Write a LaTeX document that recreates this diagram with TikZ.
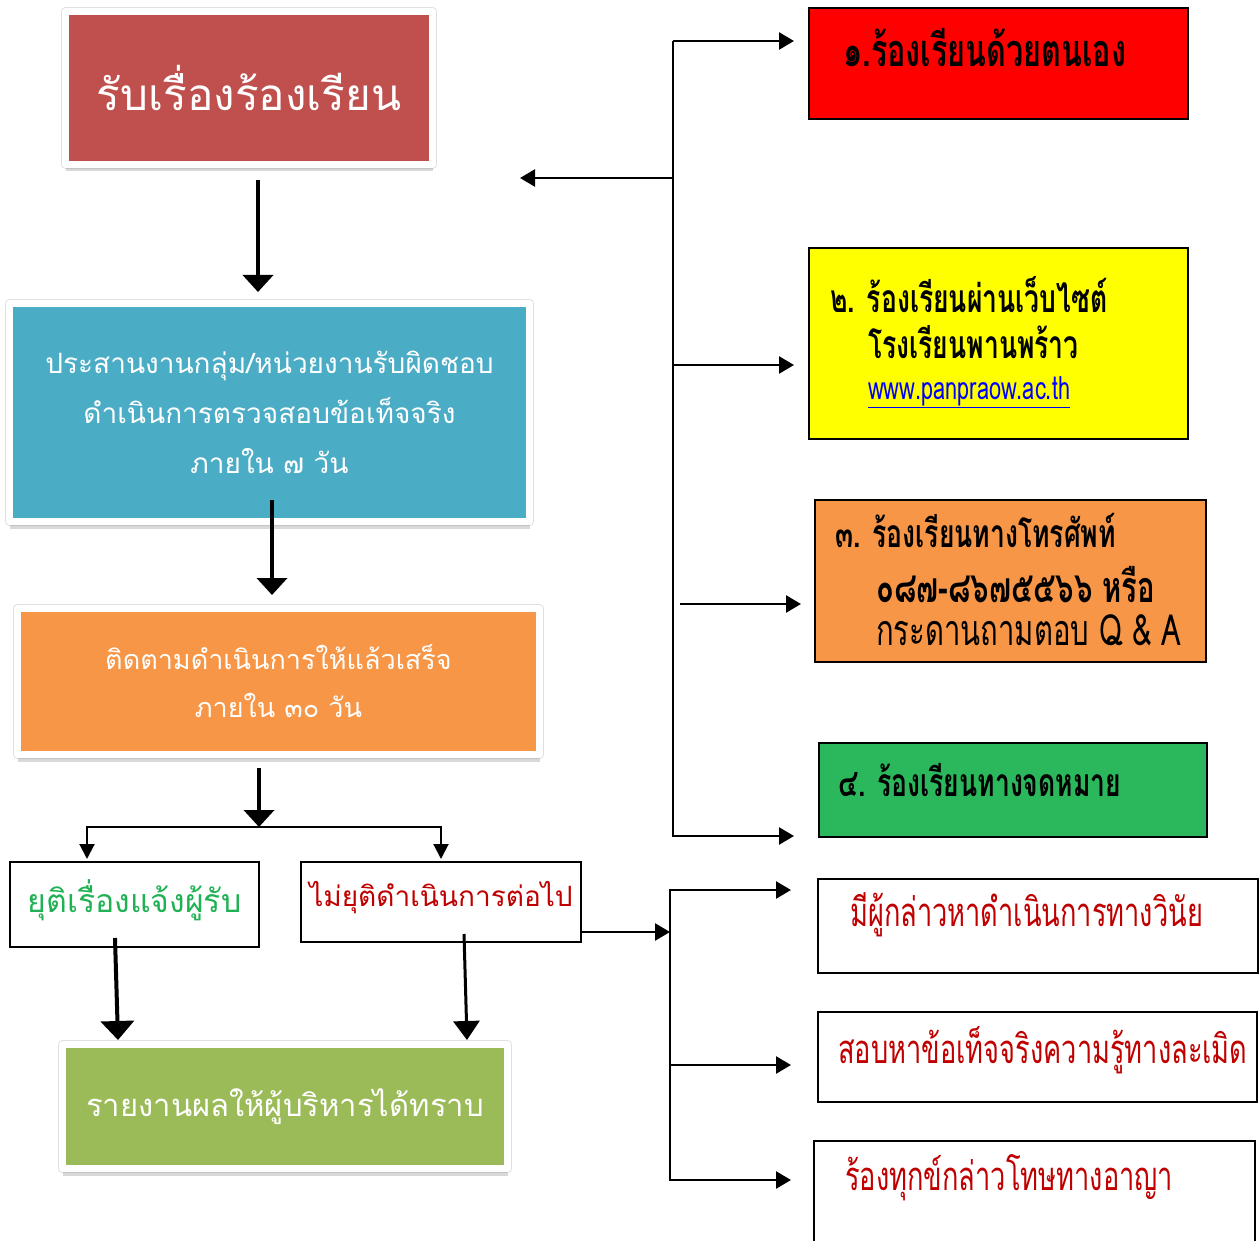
\documentclass[tikz,border=0pt]{standalone}
\usepackage{fontspec}
\usepackage{tikz}
\usetikzlibrary{arrows.meta,calc,shadows,positioning}
\newfontfamily\thaifont[Script=Thai]{Loma}
\newfontfamily\thainarrow[Script=Thai,FakeStretch=0.68]{Loma}
\definecolor{titlered}{HTML}{C0504D}
\definecolor{stepblue}{HTML}{4BACC6}
\definecolor{steporange}{HTML}{F79646}
\definecolor{stepolive}{HTML}{9BBB59}
\definecolor{chanred}{HTML}{FF0000}
\definecolor{chanyellow}{HTML}{FFFF00}
\definecolor{changreen}{HTML}{2BB85C}
\definecolor{okgreen}{HTML}{1FB153}
\definecolor{notred}{HTML}{C00000}
\definecolor{urlblue}{HTML}{0000FF}

\tikzset{
  stepframe/.style={draw=white,line width=7pt,line join=round,inner sep=0pt,
    text=white,align=center,font=\thaifont,
    preaction={draw=black!12,line width=9pt},
    drop shadow={shadow xshift=0.5pt,shadow yshift=-7pt,opacity=0.3}},
  chanbox/.style={draw=black,line width=2pt,inner sep=0pt},
  chantext/.style={anchor=west,inner sep=0pt,font=\fontsize{39}{44}\thainarrow\bfseries},
  casetext/.style={anchor=west,inner sep=0pt,text=notred,font=\fontsize{40}{44}\thainarrow},
  bigflow/.style={line width=4pt,-{Triangle[width=30pt,length=17pt]}},
  flow/.style={line width=2.5pt,-{Triangle[width=17pt,length=15pt]}},
}

\begin{document}
\begin{tikzpicture}[x=1pt,y=-1pt]
  \useasboundingbox (0,0) rectangle (1259,1241);

  % left column
  \node[stepframe,fill=titlered,minimum width=367,minimum height=153,
    font=\fontsize{44}{50}\thaifont](title) at (249,88) {รับเรื่องร้องเรียน};
  \node[stepframe,fill=stepblue,minimum width=520,minimum height=218,
    font=\fontsize{28}{50}\thaifont](check) at (269.5,412.5)
    {ประสานงานกลุ่ม/หน่วยงานรับผิดชอบ\\ดำเนินการตรวจสอบข้อเท็จจริง\\ภายใน ๗ วัน};
  \node[stepframe,fill=steporange,minimum width=522,minimum height=146,
    font=\fontsize{27}{48}\thaifont](follow) at (278.5,681.5)
    {ติดตามดำเนินการให้แล้วเสร็จ\\ภายใน ๓๐ วัน};
  \node[chanbox,minimum width=249,minimum height=85,text=okgreen,text depth=16pt,
    font=\fontsize{32}{34}\thaifont](done) at (134.5,904.5) {ยุติเรื่องแจ้งผู้รับ};
  \node[chanbox,minimum width=280,minimum height=80,text=notred,text depth=16pt,
    font=\fontsize{28}{30}\thaifont](notdone) at (441,902) {ไม่ยุติดำเนินการต่อไป};
  \node[stepframe,fill=stepolive,minimum width=445,minimum height=124,
    font=\fontsize{31}{36}\thaifont](report) at (285,1106.5) {รายงานผลให้ผู้บริหารได้ทราบ};

  % complaint channels
  \node[chanbox,fill=chanred,minimum width=379,minimum height=111](ch1) at (998.5,63.5) {};
  \node[chanbox,fill=chanyellow,minimum width=379,minimum height=191](ch2) at (998.5,343.5) {};
  \node[chanbox,fill=steporange,minimum width=391,minimum height=162](ch3) at (1010.5,581) {};
  \node[chanbox,fill=changreen,minimum width=388,minimum height=94](ch4) at (1013,790) {};
  \node[chantext,font=\fontsize{45}{50}\thainarrow\bfseries](ch1a) at (843,48) {๑.ร้องเรียนด้วยตนเอง};
  \node[chantext](ch2a) at (830,295) {๒. ร้องเรียนผ่านเว็บไซต์};
  \node[chantext](ch2b) at (868,342) {โรงเรียนพานพร้าว};
  \node[chantext,font=\fontsize{32}{36}\thainarrow,text=urlblue](ch2c) at (868,392)
    {\underline{www.panpraow.ac.th}};
  \node[chantext](ch3a) at (835,530) {๓. ร้องเรียนทางโทรศัพท์};
  \node[chantext,font=\fontsize{43}{48}\thainarrow\bfseries](ch3b) at (876,585) {๐๘๗-๘๖๗๕๕๖๖ หรือ};
  \node[chantext,font=\fontsize{43}{48}\thainarrow](ch3c) at (876,630) {กระดานถามตอบ Q \& A};
  \node[chantext](ch4a) at (838,780) {๔. ร้องเรียนทางจดหมาย};

  % further action
  \node[chanbox,minimum width=440,minimum height=94](act1) at (1038,926) {};
  \node[chanbox,minimum width=439,minimum height=90](act2) at (1037.5,1057) {};
  \node[chanbox,minimum width=441,minimum height=109](act3) at (1034.5,1195.5) {};
  \node[casetext](act1a) at (850,915) {มีผู้กล่าวหาดำเนินการทางวินัย};
  \node[casetext](act2a) at (838,1050) {สอบหาข้อเท็จจริงความรู้ทางละเมิด};
  \node[casetext](act3a) at (845,1178) {ร้องทุกข์กล่าวโทษทางอาญา};

  \coordinate (fork) at (259,827);
  \coordinate (hub1) at (673,178);
  \coordinate (hub2) at (670,932);
  \coordinate (phone) at (680,604);

  \begin{scope}
    \draw[bigflow] ($(title.south)+(9,12)$) -- ($(title.south |- check.north)+(9,-8)$);
    \draw[bigflow] ($(check.south)+(2.5,-25)$) -- ($(check.south |- follow.north)+(2.5,-10)$);
    \draw[bigflow] ($(follow.south)+(-19.5,10)$) -- (fork);
    \draw[flow,line width=2pt,-{Triangle[width=15pt,length=15pt]}]
      (fork) -| ($(done.north)+(-47.5,-2)$);
    \draw[flow,line width=2pt,-{Triangle[width=15pt,length=15pt]}]
      (fork) -| ($(notdone.north)+(0,-2)$);
    \draw[bigflow,-{Triangle[width=33pt,length=19pt]}]
      ($(done.south)+(-19.5,-10)$) -- ($(report.north)+(-167,-1)$);
    \draw[bigflow,line width=3pt,-{Triangle[width=26pt,length=19pt]}]
      ($(notdone.south)+(23,-9)$) -- ($(report.north)+(182,-1)$);

    \draw[flow] (hub1) -- ($(title.east)+(84,90)$);
    \draw[flow] ($(hub1)+(0,-137)$) -- ($(ch1.west)+(-14,-22.5)$);
    \draw[flow] (hub1) |- ($(ch2.west)+(-14,21.5)$);
    \draw[flow] ($(hub1)+(0,-137)$) -- (hub1) |- ($(ch4.west)+(-24,46)$);
    \draw[flow] (phone) -- ($(ch3.west)+(-13,23)$);

    \draw[flow] ($(notdone.east)+(0,30)$) -- (hub2);
    \draw[flow] (hub2) |- ($(act1.west)+(-26,-36)$);
    \draw[flow] (hub2) |- ($(act2.west)+(-26,8)$);
    \draw[flow] (hub2) |- ($(act3.west)+(-22,-15.5)$);
  \end{scope}
\end{tikzpicture}
\end{document}
